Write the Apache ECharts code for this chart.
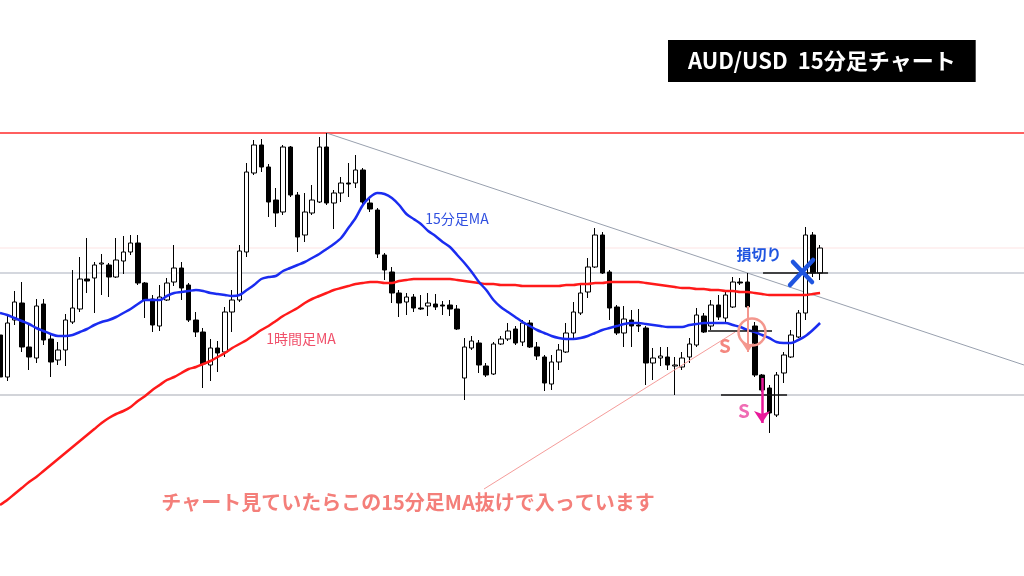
<!DOCTYPE html>
<html>
<head>
<meta charset="utf-8">
<script src="https://cdn.jsdelivr.net/npm/echarts@6/dist/echarts.min.js"></script>
<style>
  html, body { margin: 0; padding: 0; background: #ffffff; }
  #chart { width: 1024px; height: 576px; }
</style>
</head>
<body>
<div id="chart"></div>
<script>
// AUD/USD 15-minute candles, oldest first
const open = [
  0.7060,0.7018,0.7075,0.7092,0.7048,0.7037,0.7091,0.7056,0.7035,0.7045,
  0.7073,0.7086,0.7116,0.7117,0.7131,0.7130,0.7118,0.7134,0.7143,0.7152,
  0.7112,0.7096,0.7069,0.7095,0.7113,0.7127,0.7110,0.7075,0.7063,0.7030,
  0.7047,0.7043,0.7083,0.7095,0.7143,0.7222,0.7250,0.7228,0.7195,0.7183,
  0.7248,0.7200,0.7160,0.7182,0.7193,0.7248,0.7192,0.7202,0.7212,0.7212,
  0.7225,0.7192,0.7185,0.7140,0.7123,0.7102,0.7093,0.7098,0.7087,0.7089,
  0.7091,0.7090,0.7090,0.7086,0.7017,0.7047,0.7052,0.7029,0.7021,0.7051,
  0.7056,0.7066,0.7053,0.7072,0.7048,0.7038,0.7011,0.7033,0.7043,0.7062,
  0.7082,0.7103,0.7128,0.7160,0.7123,0.7088,0.7062,0.7075,0.7070,0.7067,
  0.7032,0.7037,0.7038,0.7029,0.7028,0.7038,0.7050,0.7079,0.7069,0.7090,
  0.7077,0.7088,0.7113,0.7113,0.7069,0.7020,0.7007,0.6980,0.7022,0.7038,
  0.7058,0.7082,0.7160,0.7122
];
const close = [
  0.7018,0.7072,0.7093,0.7048,0.7038,0.7089,0.7055,0.7033,0.7045,0.7075,
  0.7087,0.7116,0.7114,0.7130,0.7132,0.7118,0.7135,0.7143,0.7152,0.7112,
  0.7095,0.7070,0.7098,0.7112,0.7127,0.7107,0.7075,0.7063,0.7031,0.7047,
  0.7042,0.7083,0.7095,0.7144,0.7223,0.7250,0.7228,0.7193,0.7182,0.7248,
  0.7200,0.7158,0.7183,0.7195,0.7248,0.7192,0.7202,0.7212,0.7211,0.7225,
  0.7193,0.7186,0.7141,0.7125,0.7102,0.7092,0.7098,0.7087,0.7086,0.7092,
  0.7088,0.7089,0.7086,0.7066,0.7048,0.7054,0.7030,0.7020,0.7051,0.7056,
  0.7064,0.7052,0.7072,0.7048,0.7039,0.7012,0.7033,0.7045,0.7062,0.7083,
  0.7102,0.7128,0.7160,0.7122,0.7087,0.7062,0.7076,0.7069,0.7069,0.7032,
  0.7037,0.7039,0.7030,0.7030,0.7037,0.7051,0.7080,0.7063,0.7090,0.7078,
  0.7100,0.7113,0.7112,0.7088,0.7020,0.7005,0.6982,0.7020,0.7040,0.7060,
  0.7082,0.7160,0.7122,0.7147
];
const high = [
  0.7070,0.7079,0.7104,0.7113,0.7070,0.7096,0.7096,0.7061,0.7053,0.7081,
  0.7125,0.7138,0.7157,0.7133,0.7141,0.7132,0.7157,0.7159,0.7160,0.7160,
  0.7113,0.7100,0.7110,0.7117,0.7150,0.7133,0.7112,0.7083,0.7067,0.7056,
  0.7054,0.7088,0.7105,0.7150,0.7232,0.7255,0.7256,0.7231,0.7207,0.7250,
  0.7249,0.7203,0.7202,0.7210,0.7258,0.7262,0.7205,0.7218,0.7232,0.7240,
  0.7227,0.7197,0.7187,0.7142,0.7128,0.7105,0.7102,0.7101,0.7100,0.7102,
  0.7101,0.7094,0.7095,0.7090,0.7057,0.7059,0.7055,0.7032,0.7053,0.7059,
  0.7072,0.7069,0.7075,0.7075,0.7053,0.7040,0.7040,0.7051,0.7072,0.7093,
  0.7110,0.7137,0.7167,0.7163,0.7125,0.7090,0.7089,0.7085,0.7086,0.7069,
  0.7047,0.7048,0.7048,0.7038,0.7043,0.7057,0.7087,0.7082,0.7095,0.7100,
  0.7103,0.7118,0.7117,0.7122,0.7073,0.7021,0.7010,0.7023,0.7043,0.7065,
  0.7085,0.7168,0.7163,0.7150
];
const low = [
  0.7013,0.7014,0.7070,0.7043,0.7025,0.7032,0.7050,0.7018,0.7030,0.7029,
  0.7071,0.7083,0.7102,0.7082,0.7100,0.7098,0.7117,0.7121,0.7140,0.7110,
  0.7077,0.7063,0.7064,0.7094,0.7109,0.7095,0.7073,0.7058,0.7007,0.7014,
  0.7023,0.7038,0.7063,0.7093,0.7138,0.7220,0.7223,0.7178,0.7168,0.7180,
  0.7198,0.7143,0.7153,0.7180,0.7192,0.7190,0.7166,0.7193,0.7198,0.7207,
  0.7191,0.7183,0.7137,0.7115,0.7092,0.7078,0.7080,0.7083,0.7085,0.7079,
  0.7085,0.7080,0.7079,0.7065,0.6995,0.7045,0.7022,0.7018,0.7020,0.7050,
  0.7054,0.7050,0.7049,0.7047,0.7035,0.7004,0.7005,0.7025,0.7042,0.7055,
  0.7080,0.7097,0.7127,0.7121,0.7075,0.7060,0.7048,0.7048,0.7063,0.7010,
  0.7015,0.7029,0.7025,0.7000,0.7025,0.7032,0.7048,0.7062,0.7065,0.7075,
  0.7072,0.7087,0.7110,0.7085,0.7018,0.7003,0.6962,0.6978,0.7012,0.7037,
  0.7057,0.7075,0.7118,0.7115
];
// 15-minute moving average (blue)
const ma15 = [
  0.7082,0.7080,0.7077,0.7074,0.7071,0.7067,0.7064,0.7061,0.7059,0.7059,
  0.7060,0.7063,0.7066,0.7070,0.7073,0.7075,0.7078,0.7082,0.7086,0.7091,
  0.7095,0.7095,0.7095,0.7099,0.7102,0.7103,0.7104,0.7105,0.7104,0.7102,
  0.7101,0.7100,0.7099,0.7100,0.7105,0.7110,0.7116,0.7118,0.7119,0.7124,
  0.7127,0.7130,0.7133,0.7137,0.7141,0.7146,0.7151,0.7157,0.7167,0.7177,
  0.7190,0.7198,0.7202,0.7201,0.7197,0.7190,0.7181,0.7176,0.7171,0.7164,
  0.7159,0.7153,0.7148,0.7140,0.7132,0.7123,0.7113,0.7105,0.7095,0.7088,
  0.7083,0.7078,0.7073,0.7069,0.7065,0.7062,0.7059,0.7057,0.7056,0.7056,
  0.7057,0.7059,0.7062,0.7065,0.7067,0.7069,0.7071,0.7072,0.7072,0.7071,
  0.7070,0.7069,0.7068,0.7068,0.7068,0.7070,0.7071,0.7072,0.7072,0.7072,
  0.7072,0.7070,0.7068,0.7065,0.7063,0.7060,0.7057,0.7053,0.7052,0.7052,
  0.7055,0.7059,0.7065,0.7072
];
// 1-hour moving average (red)
const ma60 = [
  0.6890,0.6895,0.6901,0.6907,0.6913,0.6918,0.6924,0.6930,0.6936,0.6942,
  0.6948,0.6954,0.6960,0.6966,0.6972,0.6977,0.6981,0.6984,0.6988,0.6994,
  0.6999,0.7005,0.7010,0.7015,0.7018,0.7022,0.7026,0.7028,0.7031,0.7034,
  0.7038,0.7042,0.7047,0.7051,0.7055,0.7060,0.7065,0.7069,0.7074,0.7079,
  0.7083,0.7087,0.7092,0.7096,0.7099,0.7102,0.7105,0.7107,0.7109,0.7111,
  0.7112,0.7113,0.7113,0.7112,0.7112,0.7114,0.7115,0.7116,0.7116,0.7116,
  0.7116,0.7116,0.7116,0.7115,0.7114,0.7113,0.7112,0.7111,0.7111,0.7110,
  0.7110,0.7110,0.7109,0.7109,0.7109,0.7109,0.7109,0.7109,0.7110,0.7110,
  0.7111,0.7111,0.7112,0.7112,0.7113,0.7113,0.7113,0.7113,0.7113,0.7112,
  0.7111,0.7110,0.7109,0.7108,0.7107,0.7107,0.7106,0.7106,0.7105,0.7105,
  0.7104,0.7104,0.7103,0.7103,0.7102,0.7101,0.7100,0.7100,0.7100,0.7100,
  0.7100,0.7100,0.7101,0.7102
];
// Horizontal levels and the descending trendline
const resistance = 0.7262;
const neckline = 0.7122;
const support = 0.7000;
const upperBand = 0.7147;
const trendline = [[45, 0.7262], [141.1, 0.7030]];

const X_END = 141.1;
const candles = open.map((o, i) => [i, o, close[i], low[i], high[i]]);
const indexed = arr => arr.map((v, i) => [i, v]);

const JP = '"Noto Sans CJK JP", "Noto Sans", sans-serif';

// a full-width horizontal price level
function level(name, value, color, width) {
  return {
    name: name, type: 'line', silent: true, showSymbol: false, z: 1,
    data: [[0, value], [X_END, value]],
    lineStyle: { color: color, width: width }
  };
}
function textPoint(coord, text, color, size, weight) {
  return {
    coord: coord, symbol: 'rect', symbolSize: 1,
    itemStyle: { color: 'rgba(0,0,0,0)' },
    label: { show: true, position: 'inside', formatter: text, color: color,
             fontSize: size, fontWeight: weight, fontFamily: JP }
  };
}
function seg(a, b, style, arrow) {
  return [
    { coord: a, symbol: 'none', lineStyle: style },
    { coord: b, symbol: arrow ? 'arrow' : 'none', symbolSize: arrow || 0 }
  ];
}

const chart = echarts.init(document.getElementById('chart'));
chart.setOption({
  animation: false,
  backgroundColor: '#ffffff',
  title: {
    text: 'AUD/USD  15分足チャート',
    left: 668, top: 40,
    padding: [10, 20, 10, 20],
    backgroundColor: '#000000',
    textStyle: { color: '#ffffff', fontSize: 22, fontWeight: 'bold', lineHeight: 22, fontFamily: JP }
  },
  grid: { left: 0, right: 0, top: 0, bottom: 0 },
  xAxis: { type: 'value', min: 0, max: X_END, show: false, splitLine: { show: false } },
  yAxis: { type: 'value', min: 0.6819, max: 0.7395, show: false, splitLine: { show: false } },
  series: [
    level('upperBand', upperBand, '#fde3e3', 1),
    level('resistance', resistance, '#ff2a2a', 1.5),
    level('neckline', neckline, '#a9afbd', 1.2),
    level('support', support, '#a6aab3', 1.2),
    {
      name: 'trend', type: 'line', data: trendline, showSymbol: false, silent: true, z: 1,
      lineStyle: { color: '#98a0ae', width: 1 }
    },
    {
      name: 'candles', type: 'candlestick', data: candles, barWidth: 5, z: 2,
      encode: { x: 0, y: [1, 2, 3, 4] },
      itemStyle: { color: '#ffffff', color0: '#000000', borderColor: '#000000', borderColor0: '#000000', borderWidth: 1 }
    },
    {
      name: '1時間足MA', type: 'line', data: indexed(ma60), showSymbol: false, smooth: 0.3, z: 3,
      lineStyle: { color: '#ff1a1a', width: 2.5 }
    },
    {
      name: '15分足MA', type: 'line', data: indexed(ma15), showSymbol: false, smooth: 0.3, z: 3,
      lineStyle: { color: '#1a2cf0', width: 2.5 }
    },
    {
      name: 'notes', type: 'line', data: [], z: 5, silent: true,
      markLine: {
        silent: true, precision: 4, symbol: ['none', 'none'], label: { show: false },
        data: [
          seg([66.69, 0.6906], [101.3, 0.7063], { color: '#f59c9a', width: 1, type: 'solid' }),
          seg([97.56, 0.7064], [106.38, 0.7064], { color: '#111111', width: 1.5, type: 'solid' }),
          seg([99.35, 0.7000], [108.45, 0.7000], { color: '#111111', width: 1.5, type: 'solid' }),
          seg([105.14, 0.7122], [114.1, 0.7122], { color: '#111111', width: 1.5, type: 'solid' }),
          seg([103.07, 0.7089], [103.07, 0.7043], { color: '#f4978e', width: 2, type: 'solid' }, 9),
          seg([105.0, 0.7017], [105.0, 0.6972], { color: '#e8189a', width: 2.5, type: 'solid' }, 12),
          seg([108.86, 0.7110], [112.03, 0.7135], { color: '#1f55e0', width: 4.5, type: 'solid', cap: 'round' }),
          seg([109.27, 0.7133], [111.89, 0.7113], { color: '#1f55e0', width: 4.5, type: 'solid', cap: 'round' })
        ]
      },
      markPoint: {
        silent: true,
        data: [
          { coord: [103.62, 0.7063], symbol: 'circle', symbolSize: 27,
            itemStyle: { color: 'rgba(0,0,0,0)', borderColor: '#f4978e', borderWidth: 2.5 },
            label: { show: false } },
          textPoint([104.59, 0.7141], '損切り', '#1f55e0', 15, 'bold'),
          textPoint([99.9, 0.7049], 'S', '#f4877f', 19, 'bold'),
          textPoint([102.52, 0.6984], 'S', '#f06cb4', 19, 'bold'),
          textPoint([62.97, 0.7176], '15分足MA', '#2f4fe0', 14, 'normal'),
          textPoint([41.48, 0.7056], '1時間足MA', '#f0506a', 14, 'normal'),
          textPoint([56.22, 0.6893], 'チャート見ていたらこの15分足MA抜けで入っています', '#f47f7a', 20, 'bold')
        ]
      }
    }
  ]
});
</script>
</body>
</html>
